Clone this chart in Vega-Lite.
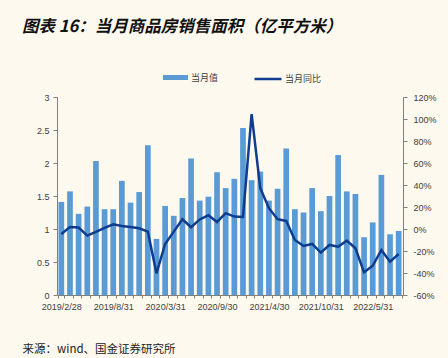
{
  "$schema": "https://vega.github.io/schema/vega-lite/v6.json",
  "autosize": {"type": "none"},
  "width": 346,
  "height": 198,
  "padding": {"left": 57, "top": 97, "right": 45, "bottom": 63},
  "background": "#FEF9EE",
  "config": {"view": {"stroke": null}, "font": "Liberation Sans"},
  "title": {
    "text": "图表 16：当月商品房销售面积（亿平方米）",
    "anchor": "start",
    "frame": "group",
    "dx": -35,
    "offset": 29,
    "font": "Noto Sans CJK SC",
    "fontSize": 16.5,
    "fontWeight": "bold",
    "fontStyle": "italic",
    "color": "#111111"
  },
  "data": {
    "values": [
      {"date": "2019/2/28", "area": 1.41, "yoy": -4.5},
      {"date": "2019/3/31", "area": 1.57, "yoy": 1.9},
      {"date": "2019/4/30", "area": 1.23, "yoy": 1.3},
      {"date": "2019/5/31", "area": 1.34, "yoy": -6.0},
      {"date": "2019/6/30", "area": 2.03, "yoy": -2.7},
      {"date": "2019/7/31", "area": 1.30, "yoy": 1.0},
      {"date": "2019/8/31", "area": 1.30, "yoy": 4.3},
      {"date": "2019/9/30", "area": 1.73, "yoy": 2.8},
      {"date": "2019/10/31", "area": 1.40, "yoy": 1.9},
      {"date": "2019/11/30", "area": 1.56, "yoy": 0.7},
      {"date": "2019/12/31", "area": 2.27, "yoy": -2.4},
      {"date": "2020/2/29", "area": 0.85, "yoy": -40.3},
      {"date": "2020/3/31", "area": 1.35, "yoy": -13.6},
      {"date": "2020/4/30", "area": 1.20, "yoy": -2.4},
      {"date": "2020/5/31", "area": 1.47, "yoy": 8.9},
      {"date": "2020/6/30", "area": 2.07, "yoy": 1.6},
      {"date": "2020/7/31", "area": 1.43, "yoy": 8.7},
      {"date": "2020/8/31", "area": 1.49, "yoy": 12.5},
      {"date": "2020/9/30", "area": 1.86, "yoy": 6.4},
      {"date": "2020/10/31", "area": 1.62, "yoy": 14.4},
      {"date": "2020/11/30", "area": 1.76, "yoy": 11.3},
      {"date": "2020/12/31", "area": 2.53, "yoy": 11.0},
      {"date": "2021/2/28", "area": 1.74, "yoy": 104.5},
      {"date": "2021/3/31", "area": 1.87, "yoy": 37.1},
      {"date": "2021/4/30", "area": 1.43, "yoy": 18.9},
      {"date": "2021/5/31", "area": 1.61, "yoy": 8.9},
      {"date": "2021/6/30", "area": 2.22, "yoy": 7.3},
      {"date": "2021/7/31", "area": 1.30, "yoy": -10.0},
      {"date": "2021/8/31", "area": 1.25, "yoy": -15.4},
      {"date": "2021/9/30", "area": 1.62, "yoy": -13.6},
      {"date": "2021/10/31", "area": 1.27, "yoy": -21.5},
      {"date": "2021/11/30", "area": 1.50, "yoy": -14.5},
      {"date": "2021/12/31", "area": 2.12, "yoy": -16.1},
      {"date": "2022/2/28", "area": 1.57, "yoy": -10.6},
      {"date": "2022/3/31", "area": 1.53, "yoy": -17.5},
      {"date": "2022/4/30", "area": 0.875, "yoy": -39.4},
      {"date": "2022/5/31", "area": 1.10, "yoy": -33.4},
      {"date": "2022/6/30", "area": 1.82, "yoy": -19.1},
      {"date": "2022/7/31", "area": 0.92, "yoy": -29.7},
      {"date": "2022/8/31", "area": 0.97, "yoy": -22.7}
    ]
  },
  "encoding": {
    "x": {
      "field": "date",
      "type": "ordinal",
      "sort": null,
      "scale": {"paddingInner": 0.34, "paddingOuter": 0.17},
      "axis": {
        "title": "来源：wind、国金证券研究所",
        "titleX": -35,
        "titleY": 54,
        "titleAlign": "left",
        "titleAnchor": null,
        "titleBaseline": "middle",
        "titleFont": "Noto Sans CJK SC",
        "titleFontSize": 11.5,
        "titleFontWeight": "normal",
        "titleColor": "#222222",
        "labelAngle": 0,
        "labelOverlap": false,
        "labelExpr": "indexof(['2019/2/28','2019/8/31','2020/3/31','2020/9/30','2021/4/30','2021/10/31','2022/5/31'], datum.value) >= 0 ? datum.value : ''",
        "labelFontSize": 9,
        "labelColor": "#404040",
        "labelPadding": 4,
        "tickBand": "extent",
        "tickSize": 3,
        "tickColor": "#808080",
        "domainColor": "#808080"
      }
    }
  },
  "layer": [
    {
      "mark": {"type": "bar"},
      "encoding": {
        "y": {
          "field": "area",
          "type": "quantitative",
          "scale": {"domain": [0, 3]},
          "axis": {
            "title": null,
            "values": [0, 0.5, 1, 1.5, 2, 2.5, 3],
            "format": "~g",
            "grid": false,
            "labelFontSize": 9,
            "labelColor": "#404040",
            "tickSize": 4,
            "labelPadding": 4,
            "tickColor": "#808080",
            "domainColor": "#808080"
          }
        },
        "color": {
          "datum": "当月值",
          "scale": {"range": ["#5B9BD5"]},
          "legend": {
            "title": null,
            "orient": "none",
            "legendX": 105,
            "legendY": -33,
            "padding": 0,
            "symbolType": "M-1,-0.2H1V0.2H-1Z",
            "symbolSize": 625,
            "labelFont": "Noto Sans CJK SC",
            "labelFontSize": 9,
            "labelColor": "#404040",
            "labelOffset": 2
          }
        }
      }
    },
    {
      "mark": {"type": "line", "strokeWidth": 2.5},
      "encoding": {
        "y": {
          "field": "yoy",
          "type": "quantitative",
          "scale": {"domain": [-60, 120]},
          "axis": {
            "title": null,
            "orient": "right",
            "values": [-60, -40, -20, 0, 20, 40, 60, 80, 100, 120],
            "labelExpr": "datum.value + '%'",
            "grid": false,
            "labelFontSize": 9,
            "labelColor": "#404040",
            "tickSize": 4,
            "labelPadding": 6,
            "tickColor": "#808080",
            "domainColor": "#808080"
          }
        },
        "stroke": {
          "datum": "当月同比",
          "scale": {"range": ["#0E3C8E"]},
          "legend": {
            "title": null,
            "orient": "none",
            "legendX": 196,
            "legendY": -33,
            "padding": 0,
            "symbolType": "stroke",
            "symbolSize": 729,
            "symbolStrokeWidth": 2.5,
            "labelFont": "Noto Sans CJK SC",
            "labelFontSize": 9,
            "labelColor": "#404040",
            "labelOffset": 2
          }
        }
      }
    }
  ],
  "resolve": {"scale": {"y": "independent"}}
}
